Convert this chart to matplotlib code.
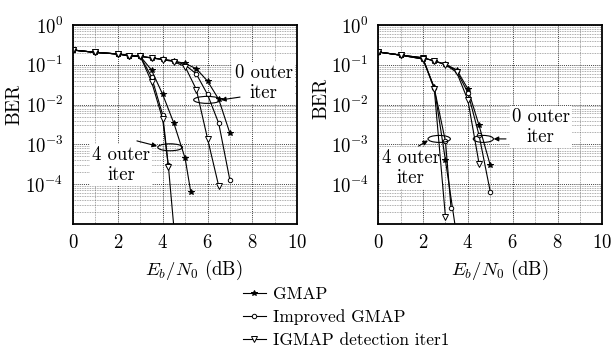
import numpy as np
import matplotlib
matplotlib.use("Agg")
import matplotlib.pyplot as plt
from matplotlib.patches import Ellipse
from matplotlib.ticker import MultipleLocator, LogLocator, NullFormatter

plt.rcParams['font.family'] = ['cmr10', 'DejaVu Serif']
plt.rcParams['mathtext.fontset'] = 'cm'
plt.rcParams['axes.formatter.use_mathtext'] = True

# ---- left panel ----
x_l_gmap0 = [0, 1, 2, 2.5, 3, 3.5, 4, 4.5, 5, 5.5, 6, 6.5, 7]
ber_l_gmap0 = [0.235, 0.205, 0.187, 0.17, 0.163, 0.15, 0.137, 0.125, 0.108, 0.08, 0.039, 0.0136, 1.9e-3]
x_l_imp0 = [0, 1, 2, 2.5, 3, 3.5, 4, 4.5, 5, 5.5, 6, 6.5, 7]
ber_l_imp0 = [0.235, 0.205, 0.187, 0.17, 0.163, 0.15, 0.137, 0.125, 0.1, 0.059, 0.018, 3.4e-3, 1.25e-4]
x_l_ig0 = [0, 1, 2, 2.5, 3, 3.5, 4, 4.5, 5, 5.5, 6, 6.5]
ber_l_ig0 = [0.235, 0.205, 0.187, 0.17, 0.163, 0.148, 0.135, 0.12, 0.09, 0.024, 1.4e-3, 9e-5]

x_l_gmap4 = [0, 1, 2, 2.5, 3, 3.5, 4, 4.5, 5, 5.25]
ber_l_gmap4 = [0.235, 0.205, 0.187, 0.17, 0.163, 0.074, 0.018, 3.4e-3, 4.5e-4, 6.5e-5]
x_l_imp4 = [0, 1, 2, 2.5, 3, 3.5, 4, 4.25, 4.5]
ber_l_imp4 = [0.235, 0.205, 0.187, 0.17, 0.163, 0.05, 5.5e-3, 3e-4, 8e-6]
x_l_ig4 = [0, 1, 2, 2.5, 3, 3.5, 4, 4.25]
ber_l_ig4 = [0.235, 0.205, 0.187, 0.17, 0.163, 0.038, 4.3e-3, 2.8e-4]

# ---- right panel ----
x_r_gmap0 = [0, 1, 2, 2.5, 3, 3.5, 4, 4.5, 5]
ber_r_gmap0 = [0.21, 0.175, 0.15, 0.125, 0.103, 0.075, 0.025, 3e-3, 3e-4]
x_r_imp0 = [0, 1, 2, 2.5, 3, 3.5, 4, 4.5, 5]
ber_r_imp0 = [0.21, 0.175, 0.15, 0.125, 0.103, 0.07, 0.02, 1.7e-3, 6.5e-5]
x_r_ig0 = [0, 1, 2, 2.5, 3, 3.5, 4, 4.5]
ber_r_ig0 = [0.21, 0.175, 0.15, 0.125, 0.1, 0.065, 0.013, 3.3e-4]

x_r_gmap4 = [0, 1, 2, 2.5, 3, 3.5]
ber_r_gmap4 = [0.21, 0.175, 0.14, 0.027, 4e-4, 5e-6]
x_r_imp4 = [0, 1, 2, 2.5, 3, 3.25]
ber_r_imp4 = [0.21, 0.175, 0.14, 0.026, 1.2e-3, 2.5e-5]
x_r_ig4 = [0, 1, 2, 2.5, 3]
ber_r_ig4 = [0.21, 0.175, 0.14, 0.025, 1.5e-5]

labels = ['GMAP', 'Improved GMAP', 'IGMAP detection iter1']

styles = [dict(marker='*', ms=4, mfc='black'),
          dict(marker='o', ms=3.2, mfc='white'),
          dict(marker='v', ms=3.8, mfc='white')]

fig = plt.figure(figsize=(6.14, 3.47), dpi=100)
ax1 = fig.add_axes([0.119, 0.354, 0.365, 0.574])
ax2 = fig.add_axes([0.616, 0.354, 0.365, 0.574])

panels = [
    (ax1, [(x_l_gmap0, ber_l_gmap0), (x_l_imp0, ber_l_imp0), (x_l_ig0, ber_l_ig0)],
          [(x_l_gmap4, ber_l_gmap4), (x_l_imp4, ber_l_imp4), (x_l_ig4, ber_l_ig4)]),
    (ax2, [(x_r_gmap0, ber_r_gmap0), (x_r_imp0, ber_r_imp0), (x_r_ig0, ber_r_ig0)],
          [(x_r_gmap4, ber_r_gmap4), (x_r_imp4, ber_r_imp4), (x_r_ig4, ber_r_ig4)]),
]

handles = []
for ax, grp0, grp4 in panels:
    for grp in (grp0, grp4):
        for i, (xs, ys) in enumerate(grp):
            ln, = ax.semilogy(xs, ys, color='black', lw=0.8, mec='black', mew=0.7,
                              label=labels[i], **styles[i])
            if ax is ax1 and grp is grp0:
                handles.append(ln)
    ax.set_xlim(0, 10)
    ax.set_ylim(1e-5, 1)
    ax.set_xticks([0, 2, 4, 6, 8, 10])
    ax.xaxis.set_minor_locator(MultipleLocator(1))
    ax.set_yticks([1e-4, 1e-3, 1e-2, 1e-1, 1])
    ax.yaxis.set_minor_locator(LogLocator(base=10, subs=np.arange(2, 10), numticks=20))
    ax.yaxis.set_minor_formatter(NullFormatter())
    ax.grid(True, which='major', ls=(0, (1.5, 1.5)), color='black', lw=0.5)
    ax.grid(True, which='minor', ls=(0, (1.5, 1.5)), color='0.35', lw=0.4)
    ax.set_axisbelow(True)
    ax.tick_params(which='both', length=0, labelsize=13.5, pad=7)
    for s in ax.spines.values():
        s.set_linewidth(1.3)
    ax.set_xlabel('$E_b/N_0$ (dB)', fontsize=13.5)
    ax.set_ylabel('BER', fontsize=14)


def note(ax, text, txy, ell_xy, ell_w, tail, head):
    ax.text(txy[0], txy[1], text, ha='center', va='center', fontsize=13.5,
            linespacing=1.15, zorder=1,
            bbox=dict(facecolor='white', edgecolor='none', pad=1.5))
    to_axes = ax.transData + ax.transAxes.inverted()
    cx, cy = to_axes.transform(ell_xy)
    ax.add_patch(Ellipse((cx, cy), ell_w, 0.035, transform=ax.transAxes,
                         fill=False, edgecolor='black', lw=0.8, zorder=4))
    ax.annotate('', xy=head, xytext=tail,
                arrowprops=dict(arrowstyle='-|>', color='black', lw=0.8,
                                mutation_scale=7, shrinkA=0, shrinkB=0))


note(ax1, '0 outer\niter', (8.5, 10**-1.45), (5.98, 10**-1.88), 0.12,
     (7.45, 10**-1.81), (6.6, 10**-1.88))
note(ax1, '4 outer\niter', (2.15, 10**-3.52), (4.33, 10**-3.07), 0.11,
     (2.85, 10**-2.91), (3.75, 10**-3.04))
note(ax2, '0 outer\niter', (7.25, 10**-2.57), (4.69, 10**-2.86), 0.09,
     (5.7, 10**-2.86), (5.15, 10**-2.86))
note(ax2, '4 outer\niter', (1.45, 10**-3.58), (2.72, 10**-2.86), 0.1,
     (1.8, 10**-3.04), (2.22, 10**-2.9))

ax1.yaxis.set_label_coords(-0.22, 0.60)
ax2.yaxis.set_label_coords(-0.215, 0.63)
ax1.xaxis.set_label_coords(0.54, -0.17)
ax2.xaxis.set_label_coords(0.54, -0.17)

fig.legend(handles=handles, loc='upper left', bbox_to_anchor=(243 / 614, 1 - 287 / 347),
           frameon=False, fontsize=12.5, handlelength=1.3, handletextpad=0.4,
           labelspacing=0.42, borderpad=0, borderaxespad=0)

fig.savefig('out.png', dpi=100)
